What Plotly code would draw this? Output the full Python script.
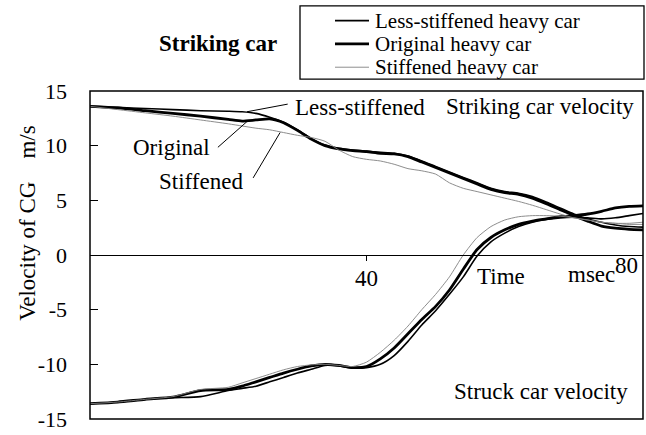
import plotly.graph_objects as go

# ---------------- data ----------------
TIME_MS = [0, 4, 8, 12, 16, 20, 22, 24, 26, 28, 30, 32, 34, 36, 38, 40, 42, 44, 46, 48,
           50, 52, 54, 56, 58, 60, 62, 64, 66, 68, 70, 72, 74, 76, 78, 80]

STRIKING_LESS = [13.6, 13.5, 13.4, 13.3, 13.2, 13.15, 13.1, 12.95, 12.6, 12.15, 11.45, 10.65,
                 10.05, 9.75, 9.6, 9.5, 9.4, 9.3, 9.05, 8.6, 8.1, 7.6, 7.1, 6.6, 6.1, 5.8,
                 5.65, 5.35, 4.85, 4.3, 3.75, 3.3, 3.0, 2.75, 2.6, 2.55]
STRIKING_ORIG = [13.6, 13.45, 13.2, 12.95, 12.7, 12.4, 12.25, 12.35, 12.45, 12.1, 11.4, 10.6,
                 10.0, 9.7, 9.55, 9.45, 9.3, 9.25, 9.0, 8.5, 8.0, 7.5, 7.0, 6.5, 6.0, 5.7,
                 5.55, 5.2, 4.7, 4.15, 3.6, 3.1, 2.65, 2.45, 2.35, 2.3]
STRIKING_STIFF = [13.6, 13.3, 13.0, 12.7, 12.35, 12.0, 11.8, 11.6, 11.45, 11.2, 10.95, 10.75,
                  10.4, 9.6, 9.0, 8.75, 8.6, 8.3, 7.9, 7.7, 7.4, 6.6, 6.1, 5.8, 5.5, 5.2,
                  4.9, 4.55, 4.15, 3.75, 3.4, 3.2, 3.0, 2.9, 2.8, 2.8]

STRUCK_LESS = [-13.6, -13.45, -13.2, -13.05, -12.95, -12.4, -12.2, -12.0, -11.6, -11.2, -10.8,
               -10.45, -10.1, -10.15, -10.35, -10.3, -10.0, -9.2, -7.9, -6.4, -5.1, -3.6,
               -2.0, -0.1, 1.2, 2.0, 2.6, 3.0, 3.25, 3.4, 3.45, 3.4, 3.3, 3.4, 3.6, 3.8]
STRUCK_ORIG = [-13.6, -13.45, -13.2, -13.0, -12.4, -12.3, -12.0, -11.6, -11.2, -10.8, -10.45,
               -10.15, -10.0, -10.1, -10.3, -10.2, -9.5, -8.5, -7.2, -5.9, -4.7, -3.2, -1.3,
               0.5, 1.6, 2.3, 2.8, 3.1, 3.3, 3.5, 3.6, 3.75, 4.0, 4.3, 4.45, 4.5]
STRUCK_STIFF = [-13.6, -13.45, -13.2, -12.95, -12.3, -12.1, -11.7, -11.3, -10.9, -10.5, -10.2,
                -10.05, -10.0, -10.1, -10.2, -9.8, -8.9, -7.8, -6.5, -5.0, -3.6, -2.0, 0.0,
                1.6, 2.6, 3.2, 3.5, 3.6, 3.6, 3.55, 3.4, 3.2, 3.0, 2.9, 2.9, 3.0]

SERIES_NAMES = ["Less-stiffened heavy car", "Original heavy car", "Stiffened heavy car"]
Y_TICK_VALUES = [-15, -10, -5, 0, 5, 10, 15]
Y_TICK_LABELS = ["-15", "-10", "-5", "0", "5", "10", "15"]
X_TICK_VALUES = [40]
X_TICK_LABELS = ["40"]

# ---------------- styling ----------------
FONT = "Liberation Serif"
W, H = 646, 435
L, R, T, B = 90, 3, 91, 13
PW, PH = W - L - R, H - T - B

STYLES = [dict(color="black", width=1.6),
          dict(color="black", width=2.8),
          dict(color="#808080", width=0.9)]


def px(x):
    return (x - L) / PW


def py(y):
    return (H - B - y) / PH


fig = go.Figure()
pairs = [(STRIKING_LESS, STRUCK_LESS), (STRIKING_ORIG, STRUCK_ORIG), (STRIKING_STIFF, STRUCK_STIFF)]
for name, style, (striking, struck) in zip(SERIES_NAMES, STYLES, pairs):
    for vals in (striking, struck):
        fig.add_trace(go.Scatter(x=TIME_MS, y=vals, mode="lines", name=name,
                                 line=dict(color=style["color"], width=style["width"],
                                           shape="spline", smoothing=0.6),
                                 showlegend=False, hoverinfo="skip"))

shapes = [dict(type="rect", xref="paper", yref="paper", x0=0, x1=1, y0=0, y1=1,
               line=dict(color="black", width=1.5), fillcolor="rgba(0,0,0,0)")]
annotations = []

# manual legend (tight spacing like the reference)
shapes.append(dict(type="rect", xref="paper", yref="paper", x0=px(300), x1=px(644),
                   y0=py(79), y1=py(5), line=dict(color="black", width=1.3)))
for i, (name, style) in enumerate(zip(SERIES_NAMES, STYLES)):
    yrow = 20 + i * 23.5
    shapes.append(dict(type="line", xref="paper", yref="paper", x0=px(335), x1=px(369),
                       y0=py(yrow), y1=py(yrow),
                       line=dict(color=style["color"], width=style["width"])))
    annotations.append(dict(xref="paper", yref="paper", x=px(373), y=py(yrow), text=name,
                            showarrow=False, xanchor="left", yanchor="middle",
                            font=dict(family=FONT, size=21, color="black")))

annotations.append(dict(xref="paper", yref="paper", x=px(218), y=py(43),
                        text="<b>Striking car</b>", showarrow=False,
                        xanchor="center", yanchor="middle",
                        font=dict(family=FONT, size=23, color="black")))

# y-axis title
annotations.append(dict(xref="paper", yref="paper", x=px(28), y=py(224),
                        text="Velocity of CG&nbsp;&nbsp;&nbsp;&nbsp;m/s", textangle=-90,
                        showarrow=False, xanchor="center", yanchor="middle",
                        font=dict(family=FONT, size=23, color="black")))

# in-plot labels (data coords)
txt = dict(family=FONT, size=23, color="black")
labels = [
    (29.4, 13.45, "Less-stiffened", "left"),
    (79.0, 13.6, "Striking car velocity", "right"),
    (17.6, 9.85, "Original", "right"),
    (22.4, 6.7, "Stiffened", "right"),
    (78.1, -12.5, "Struck car velocity", "right"),
    (59.5, -2.0, "Time", "center"),
    (72.5, -1.8, "msec", "center"),
    (79.5, -1.0, "80", "right"),
]
for x, y, t, xa in labels:
    annotations.append(dict(x=x, y=y, text=t, showarrow=False, xanchor=xa,
                            yanchor="middle", font=txt))
# pointer lines
for x0, y0, x1, y1 in [(22.7, 13.1, 28.6, 13.8), (18.5, 9.85, 22.7, 12.2), (23.6, 7.05, 27.5, 11.2)]:
    shapes.append(dict(type="line", xref="x", yref="y", x0=x0, y0=y0, x1=x1, y1=y1,
                       line=dict(color="black", width=1)))

fig.update_layout(
    width=W, height=H, autosize=False,
    margin=dict(l=L, r=R, t=T, b=B),
    paper_bgcolor="white", plot_bgcolor="white",
    showlegend=False,
    shapes=shapes, annotations=annotations,
    xaxis=dict(range=[0, 80], anchor="free", position=0.5, showline=True,
               linecolor="black", linewidth=1.3, tickvals=X_TICK_VALUES, ticktext=X_TICK_LABELS,
               ticks="outside", ticklen=5, tickwidth=1.3, tickcolor="black",
               ticklabelstandoff=-3,
               tickfont=dict(family=FONT, size=23, color="black"),
               showgrid=False, zeroline=False, fixedrange=True),
    yaxis=dict(range=[-15, 15], tickvals=Y_TICK_VALUES, ticktext=Y_TICK_LABELS,
               ticks="inside", ticklen=8, tickwidth=1.3, tickcolor="black",
               ticklabelstandoff=22, ticklabeloverflow="allow",
               tickfont=dict(family=FONT, size=22, color="black"),
               showline=False, showgrid=False, zeroline=False, fixedrange=True),
)

fig.write_html("out.html", config={"displayModeBar": False},
               post_script="document.body.style.margin='0';document.body.style.overflow='hidden';")
